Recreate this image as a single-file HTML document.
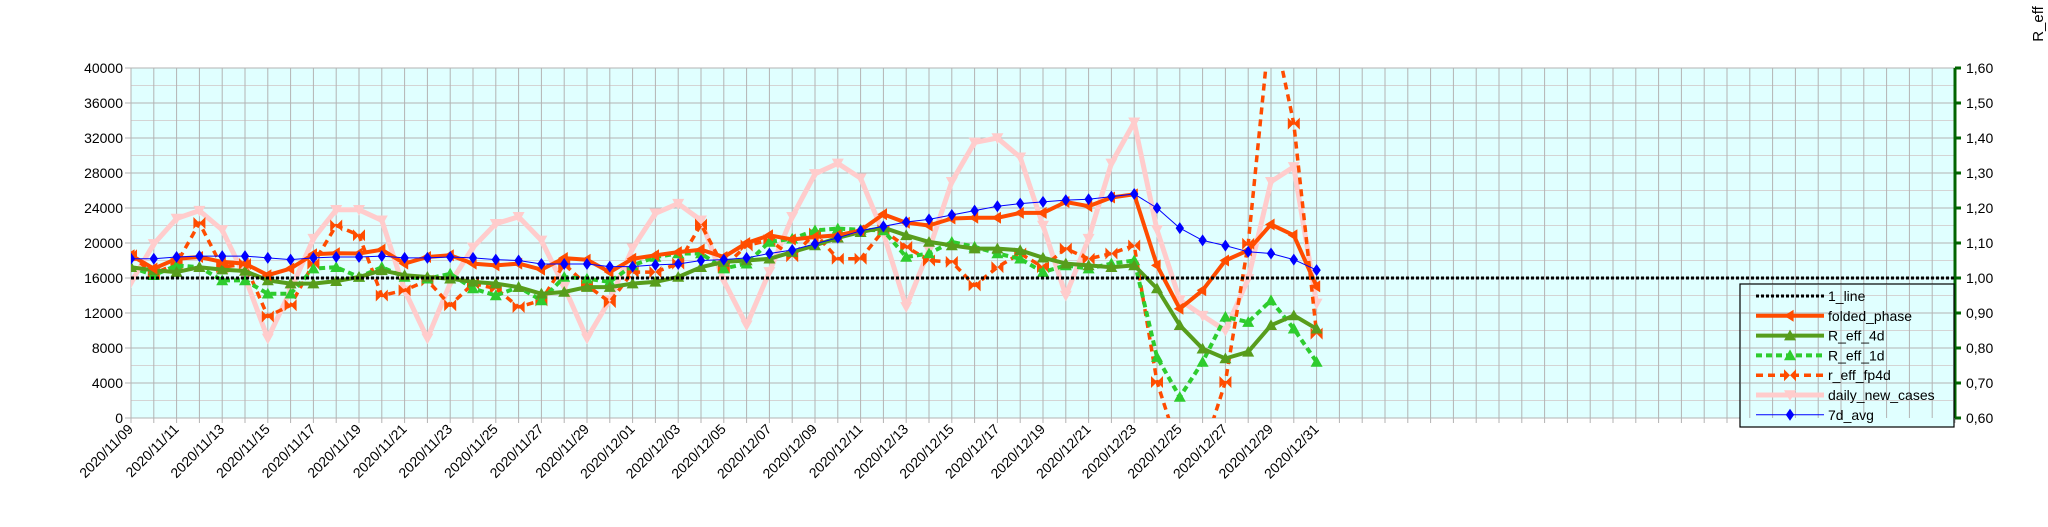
<!DOCTYPE html>
<html><head><meta charset="utf-8"><style>
html,body{margin:0;padding:0;background:#fff;}
svg{display:block;font-family:"Liberation Sans",sans-serif;}
</style></head><body>
<svg id="chart" width="2048" height="527" viewBox="0 0 2048 527" xmlns="http://www.w3.org/2000/svg">
<defs><clipPath id="plotclip"><rect x="131" y="68" width="1824" height="350"/></clipPath></defs>
<rect x="131" y="68" width="1824" height="350" fill="#e0ffff"/>
<g id="grid"></g>
<g id="axes"></g>
<g id="series" clip-path="url(#plotclip)"></g>
<text transform="translate(2043,24) rotate(-90)" text-anchor="middle" font-size="15" fill="#000">R_eff</text>
<g id="legend"></g>
</svg>
<script>
const startDate = [2020, 11, 9];
const nDates = 53;
const nCategories = 80;
const leftTicks = [0,4000,8000,12000,16000,20000,24000,28000,32000,36000,40000];
const rightTicks = ["0,60","0,70","0,80","0,90","1,00","1,10","1,20","1,30","1,40","1,50","1,60"];
const dailyNewCases = [15500,19900,22800,23700,21500,16100,9100,14600,20500,23800,23800,22600,14600,9100,15400,19500,22200,23000,20300,15000,9100,13500,19400,23400,24500,22600,15700,10600,16700,23000,27900,29100,27400,21100,12700,19200,27000,31500,32000,29800,22000,14000,20500,29100,33800,21500,13500,11700,10000,15900,27000,28700,13100];
const avg7d = [18200,18200,18400,18500,18500,18500,18300,18100,18300,18400,18400,18500,18300,18300,18400,18300,18100,18000,17600,17600,17600,17300,17300,17500,17600,18000,18100,18300,18800,19200,19900,20600,21400,21900,22400,22700,23200,23700,24200,24500,24700,24900,25000,25300,25600,24000,21700,20300,19700,19000,18800,18100,16900];
const foldedPhase = [1.065,1.027,1.055,1.06,1.046,1.041,1.008,1.027,1.068,1.071,1.07,1.081,1.041,1.06,1.065,1.041,1.036,1.041,1.024,1.057,1.052,1.017,1.055,1.065,1.074,1.081,1.06,1.1,1.122,1.11,1.117,1.122,1.136,1.182,1.158,1.15,1.17,1.172,1.172,1.186,1.186,1.217,1.205,1.23,1.239,1.036,0.912,0.965,1.05,1.079,1.153,1.122,0.976];
const rEff4d = [1.031,1.022,1.017,1.031,1.024,1.02,0.993,0.984,0.984,0.991,1.003,1.022,1.008,1.003,0.998,0.989,0.984,0.974,0.955,0.96,0.974,0.974,0.984,0.989,1.003,1.031,1.046,1.05,1.055,1.074,1.093,1.115,1.131,1.144,1.122,1.103,1.093,1.084,1.084,1.079,1.058,1.041,1.036,1.031,1.036,0.97,0.865,0.798,0.77,0.789,0.865,0.893,0.855];
const rEff1d = [1.031,1.008,1.036,1.031,0.993,0.993,0.955,0.955,1.027,1.031,1.003,1.031,1.003,0.998,1.012,0.97,0.95,0.974,0.936,1.003,0.998,0.989,1.036,1.06,1.07,1.07,1.027,1.041,1.103,1.112,1.136,1.141,1.138,1.136,1.06,1.07,1.103,1.089,1.07,1.055,1.017,1.036,1.027,1.041,1.05,0.774,0.66,0.76,0.889,0.874,0.936,0.855,0.76];
const rEffFp4d = [1.065,1.012,1.041,1.157,1.031,1.04,0.89,0.922,1.041,1.15,1.122,0.95,0.965,0.993,0.922,0.984,0.97,0.917,0.936,1.04,0.979,0.931,1.017,1.017,1.041,1.153,1.031,1.093,1.108,1.062,1.127,1.055,1.055,1.136,1.089,1.05,1.046,0.979,1.031,1.07,1.031,1.084,1.055,1.07,1.093,0.703,0.5,0.5,0.703,1.098,1.75,1.441,0.841];
const oneLine = 1.0;

const NS = "http://www.w3.org/2000/svg";
const X0 = 131, X1 = 1955, Y0 = 68, Y1 = 418;
const dx = (X1 - X0) / nCategories;
function xPos(i){ return X0 + i * dx; }
function yLeft(v){ return Y1 - v / 40000 * (Y1 - Y0); }
function yRight(r){ return Y1 - (r - 0.6) / 1.0 * (Y1 - Y0); }
function mk(tag, attrs, parent){
  const e = document.createElementNS(NS, tag);
  for (const k in attrs) e.setAttribute(k, attrs[k]);
  parent.appendChild(e);
  return e;
}
const grid = document.getElementById('grid');
const axes = document.getElementById('axes');
const series = document.getElementById('series');
const legend = document.getElementById('legend');

for (let k = 0; k <= 20; k++) {
  const y = Y1 - k * (Y1 - Y0) / 20;
  const l = mk('line', {x1:X0, x2:X1, y1:y, y2:y, stroke: k%2===0 ? '#b3b3b3' : '#d4d4d4', 'stroke-width':1}, grid);
  
  
}
for (let i = 0; i <= nCategories; i++) {
  const x = xPos(i);
  const l = mk('line', {x1:x, x2:x, y1:Y0, y2:Y1, stroke:'#b3b3b3', 'stroke-width':1}, grid);
  
  
  const t = mk('line', {x1:x, x2:x, y1:Y1, y2:Y1+5, stroke:'#b3b3b3', 'stroke-width':1}, axes);
  
  
}
mk('line', {x1:X0, x2:X0, y1:Y0, y2:Y1, stroke:'#b3b3b3'}, axes);
leftTicks.forEach(v => {
  const y = yLeft(v);
  mk('line', {x1:X0-6, x2:X0, y1:y, y2:y, stroke:'#b3b3b3'}, axes);
  const t = mk('text', {x:X0-8, y:y+5, 'text-anchor':'end', 'font-size':14, fill:'#000'}, axes);
  t.textContent = v;
  
  
});
mk('line', {x1:X1, x2:X1, y1:Y0, y2:Y1, stroke:'#006400', 'stroke-width':3}, axes);
rightTicks.forEach((lab, k) => {
  const y = Y1 - k * (Y1 - Y0) / 10;
  mk('line', {x1:X1, x2:X1+6, y1:y, y2:y, stroke:'#006400', 'stroke-width':3}, axes);
  const t = mk('text', {x:X1+11, y:y+5, 'font-size':14, fill:'#000'}, axes);
  t.textContent = lab;
  
  
});
function dateLabel(i){
  const d = new Date(Date.UTC(startDate[0], startDate[1]-1, startDate[2] + i));
  return d.getUTCFullYear() + '/' + String(d.getUTCMonth()+1).padStart(2,'0') + '/' + String(d.getUTCDate()).padStart(2,'0');
}
for (let i = 0; i < nDates; i += 2) {
  const x = xPos(i);
  const t = mk('text', {x:x+3, y:Y1+12, 'text-anchor':'end', 'font-size':14, fill:'#000', transform:`rotate(-45 ${x+3} ${Y1+12})`}, axes);
  t.textContent = dateLabel(i);
  
  
}

function marker(g, type, x, y, color, s){
  let e;
  if (type === 'diamond') e = mk('polygon', {points:`${x},${y-s} ${x+s*0.7},${y} ${x},${y+s} ${x-s*0.7},${y}`, fill:color}, g);
  else if (type === 'up') e = mk('polygon', {points:`${x},${y-s} ${x+s},${y+s*0.8} ${x-s},${y+s*0.8}`, fill:color}, g);
  else if (type === 'down') e = mk('polygon', {points:`${x-s},${y-s*0.8} ${x+s},${y-s*0.8} ${x},${y+s}`, fill:color}, g);
  else if (type === 'left') e = mk('polygon', {points:`${x-s},${y} ${x+s*0.6},${y-s} ${x+s*0.6},${y+s}`, fill:color}, g);
  else if (type === 'bowtie') e = mk('path', {d:`M${x-s},${y-s} L${x},${y} L${x-s},${y+s} Z M${x+s},${y-s} L${x},${y} L${x+s},${y+s} Z`, fill:color}, g);
  return e;
}
function drawSeries(name, vals, yf, color, width, dash, mType, mSize){
  const g = mk('g', {}, series);
  
  
  const pts = vals.map((v,i) => xPos(i).toFixed(1) + ',' + yf(v).toFixed(1)).join(' ');
  const p = mk('polyline', {points:pts, fill:'none', stroke:color, 'stroke-width':width, 'stroke-linejoin':'round'}, g);
  if (dash) p.setAttribute('stroke-dasharray', dash);
  
  
  vals.forEach((v,i) => {
    const m = marker(g, mType, xPos(i), yf(v), color, mSize);
    
    
  });
}
drawSeries('daily-new-cases', dailyNewCases, yLeft, '#ffcccc', 5, null, 'down', 6);
drawSeries('r-eff-fp4d', rEffFp4d, yRight, '#ff4c00', 3.5, '7,5', 'bowtie', 6);
drawSeries('r-eff-1d', rEff1d, yRight, '#2ecc2e', 4, '6,4', 'up', 6);
drawSeries('r-eff-4d', rEff4d, yRight, '#579d1c', 4, null, 'up', 6);
drawSeries('folded-phase', foldedPhase, yRight, '#ff4c00', 4, null, 'left', 6);
drawSeries('avg-7d', avg7d, yLeft, '#0000ff', 1, null, 'diamond', 6);
const ol = mk('line', {x1:X0, x2:X1, y1:yRight(oneLine), y2:yRight(oneLine), stroke:'#000', 'stroke-width':3, 'stroke-dasharray':'3,2'}, series);



const lb = mk('rect', {x:1740, y:284, width:214, height:143, fill:'#e0ffff', stroke:'#000', 'stroke-width':1.2}, legend);


for (let k = 0; k <= 20; k++) {
  const y = Y1 - k * (Y1 - Y0) / 20;
  if (y > 284 && y < 418) mk('line', {x1:1741, x2:1953, y1:y, y2:y, stroke: k%2===0 ? '#b3b3b3' : '#d4d4d4'}, legend);
}
for (let i = 0; i <= nCategories; i++) {
  const x = xPos(i);
  if (x > 1741 && x < 1953) mk('line', {x1:x, x2:x, y1:285, y2:418, stroke:'#b3b3b3'}, legend);
}
const legItems = [
  ['1_line','#000',3,'3,2',null],
  ['folded_phase','#ff4c00',4,null,'left'],
  ['R_eff_4d','#579d1c',4,null,'up'],
  ['R_eff_1d','#2ecc2e',4,'6,4','up'],
  ['r_eff_fp4d','#ff4c00',3.5,'7,5','bowtie'],
  ['daily_new_cases','#ffcccc',5,null,'down'],
  ['7d_avg','#0000ff',1,null,'diamond']
];
legItems.forEach((it, k) => {
  const y = 296 + k * 19.8;
  const g = mk('g', {}, legend);
  
  
  const l = mk('line', {x1:1756, x2:1824, y1:y, y2:y, stroke:it[1], 'stroke-width':it[2]}, g);
  if (it[3]) l.setAttribute('stroke-dasharray', it[3]);
  if (it[4]) marker(g, it[4], 1790, y, it[1], 6);
  const t = mk('text', {x:1828, y:y+5, 'font-size':14, fill:'#000'}, g);
  t.textContent = it[0];
});
</script>
</body></html>
